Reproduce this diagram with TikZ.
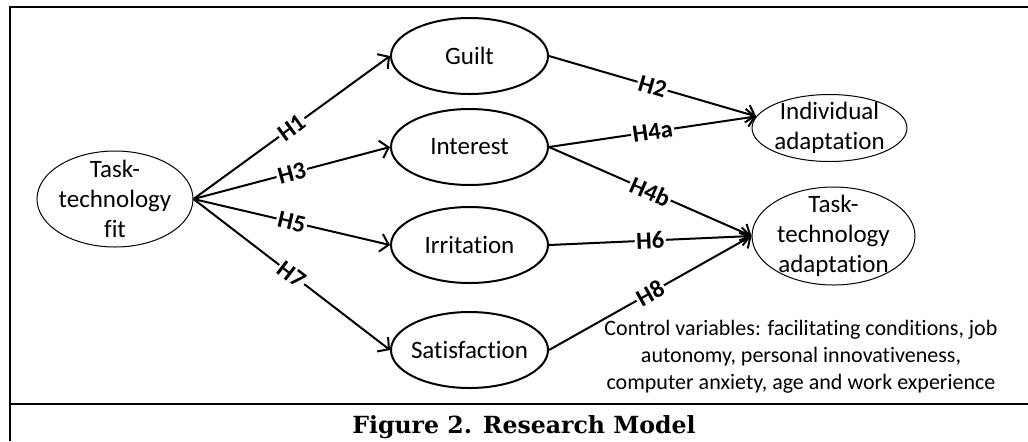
\documentclass[tikz,border=0pt]{standalone}
\usepackage{fontspec}
\setsansfont{Carlito}[Ligatures=NoCommon]
\newfontfamily\captionfont{DejaVu Serif}
\usetikzlibrary{arrows.meta, shapes.geometric, positioning}
\tikzset{
  construct/.style={ellipse, draw, line width=1pt, minimum width=78.5pt, minimum height=38pt},
  outcome/.style={ellipse, draw, line width=0.5pt},
  hyp/.style={sloped, fill=white, inner sep=0.8pt, font=\sffamily\bfseries\fontsize{12.3}{14}\selectfont},
  every label/.style={align=center}
}
\begin{document}
\begin{tikzpicture}[x=0.5pt, y=-0.5pt, >={Straight Barb[length=4pt, width=9pt]}, line width=1pt, font=\sffamily\fontsize{12.5}{15}\selectfont]
\useasboundingbox (0,0) rectangle (1028,441);
% frame
\draw (10,441) -- (10,7) -- (1030,7);
\draw (10,404) -- (1030,404);
% constructs
\node[outcome, minimum width=78pt, minimum height=48pt, label={center:Task-\\technology\\fit}] (ttf) at (115,199) {};
\node[construct, label={center:Guilt}] (guilt) at (469.5,56) {};
\node[construct, label={center:Interest}] (interest) at (469.5,147) {};
\node[construct, label={center:Irritation}] (irritation) at (469.5,245) {};
\node[construct, label={center:Satisfaction}] (satisfaction) at (469.5,350) {};
\node[outcome, minimum width=77.5pt, minimum height=33.5pt, label={center:Individual\\adaptation}] (ia) at (829.5,128) {};
\node[outcome, minimum width=81.5pt, minimum height=49pt, label={center:Task-\\technology\\adaptation}] (tta) at (833.5,236) {};
% hypotheses
\draw[->] (ttf.east) -- node[hyp]{H1} (guilt.west);
\draw[->] (ttf.east) -- node[hyp]{H3} (interest.west);
\draw[->] (ttf.east) -- node[hyp]{H5} (irritation.west);
\draw[->] (ttf.east) -- node[hyp]{H7} (satisfaction.west);
\draw[->] (guilt.east) -- node[hyp]{H2} (ia.171);
\draw[->] (interest.east) -- node[hyp]{H4a} (ia.171);
\draw[->] (interest.east) -- node[hyp]{H4b} (tta.west);
\draw[->] (irritation.east) -- node[hyp]{H6} (tta.west);
\draw[->] (satisfaction.east) -- node[hyp]{H8} (tta.west);
\node[align=center, font=\sffamily\fontsize{11}{13.5}\selectfont] (controls) at (801,357) {Control variables: facilitating conditions, job\\autonomy, personal innovativeness,\\computer anxiety, age and work experience};
\node[anchor=base, font=\captionfont\bfseries\fontsize{11.8}{14}\selectfont] (caption) at (524,433) {Figure 2. Research Model};
\end{tikzpicture}
\end{document}
